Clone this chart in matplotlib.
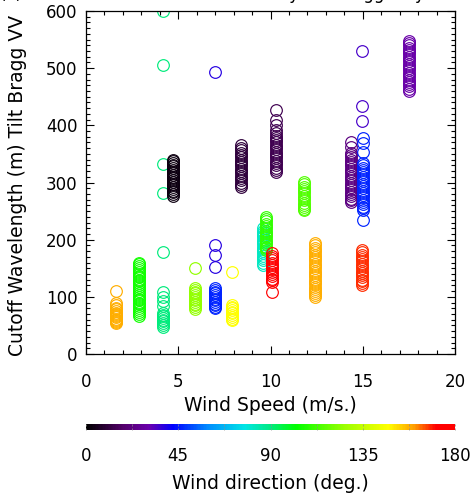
import numpy as np
import matplotlib
matplotlib.use("Agg")
import matplotlib.pyplot as plt
from matplotlib.colors import LinearSegmentedColormap, Normalize
from matplotlib.cm import ScalarMappable
from matplotlib.ticker import MultipleLocator

# one entry per stacked column of circles: wind speed (m/s), wind direction (deg), cutoff wavelengths (m)
speed = [1.6, 2.87, 4.18, 4.72, 5.93, 6.97, 6.97, 7.93, 8.4, 9.6,
         9.77, 10.1, 10.3, 11.84, 12.4, 14.36, 15.0, 14.95, 14.95, 17.5]
direction = [158, 105, 90, 3, 125, 47, 38, 147, 10, 82,
             110, 175, 14, 115, 158, 22, 47, 35, 168, 30]
cutoff = [
    [111, 90, 85, 81, 78, 75, 72, 70, 68, 66, 64, 62, 60, 58, 56, 55],
    [160, 157, 154, 150, 147, 144, 140, 137, 134, 130, 127, 124, 120, 117, 114,
     110, 107, 104, 100, 97, 94, 90, 87, 84, 80, 77, 74, 70, 67],
    [600, 505, 333, 282, 179, 108, 100, 92, 84, 72, 69, 66, 63, 60, 57, 54, 51, 48],
    [340, 337, 334, 331, 328, 325, 322, 319, 316, 313, 310, 307, 304, 301, 298,
     295, 292, 289, 286, 283, 280, 276],
    [150, 115, 112, 109, 106, 103, 100, 97, 94, 91, 88, 85, 82, 79],
    [115, 112, 109, 106, 103, 100, 97, 94, 91, 88, 85, 82, 80],
    [494, 191, 173, 152],
    [144, 86, 83, 80, 77, 74, 71, 68, 65, 62, 59],
    [365, 360, 356, 352, 348, 344, 340, 336, 332, 328, 324, 320, 316, 312, 308,
     304, 300, 296, 293],
    [220, 216, 212, 208, 204, 200, 196, 192, 188, 184, 180, 176, 172, 168, 164, 160, 156],
    [240, 236, 232, 228, 224, 220, 216, 212, 208, 204, 200, 196, 192, 188, 185, 182],
    [176, 172, 168, 164, 160, 156, 152, 148, 144, 140, 136, 132, 129, 126, 109],
    [427, 409, 400, 392, 386, 382, 378, 374, 370, 366, 362, 358, 354, 350, 346,
     342, 338, 334, 330, 326, 322, 319],
    [301, 297, 293, 289, 285, 281, 277, 273, 269, 265, 261, 257, 254, 252],
    [194, 190, 186, 182, 178, 174, 170, 166, 162, 158, 154, 150, 146, 142, 138,
     134, 130, 126, 122, 118, 114, 110, 106, 103, 100],
    [371, 362, 352, 348, 344, 340, 336, 332, 328, 324, 320, 316, 312, 308, 304,
     300, 296, 292, 288, 284, 280, 276, 272, 269, 266],
    [378, 369, 353, 334, 330, 326, 322, 318, 314, 310, 306, 302, 298, 294, 290,
     286, 282, 278, 274, 270, 266, 262, 258, 255, 252, 235],
    [530, 434, 408],
    [182, 178, 174, 170, 166, 162, 158, 154, 150, 146, 142, 138, 134, 130, 127, 124, 121],
    [548, 544, 540, 536, 532, 528, 524, 520, 516, 512, 508, 504, 500, 496, 492,
     488, 484, 480, 476, 472, 468, 464, 460],
]

speed_ticks = [0, 5, 10, 15, 20]
cutoff_ticks = [0, 100, 200, 300, 400, 500, 600]
dir_ticks = [0, 45, 90, 135, 180]

# IDL-like rainbow table
cmap = LinearSegmentedColormap.from_list("idl_rainbow", [
    (0.00, (0.0, 0.0, 0.0)),
    (0.10, (0.33, 0.0, 0.42)),
    (0.17, (0.42, 0.0, 0.68)),
    (0.235, (0.0, 0.0, 1.0)),
    (0.33, (0.0, 0.55, 1.0)),
    (0.43, (0.0, 0.9, 0.9)),
    (0.50, (0.0, 0.92, 0.5)),
    (0.57, (0.0, 1.0, 0.0)),
    (0.70, (0.6, 1.0, 0.0)),
    (0.82, (1.0, 1.0, 0.0)),
    (0.89, (1.0, 0.62, 0.0)),
    (0.95, (1.0, 0.0, 0.0)),
    (1.00, (1.0, 0.0, 0.0)),
])
norm = Normalize(0, 180)

plt.rcParams["font.family"] = "DejaVu Sans"
plt.rcParams["font.size"] = 12

fig = plt.figure(figsize=(4.75, 4.94), dpi=100)
ax = fig.add_axes([86 / 475, 140 / 494, 369 / 475, 343 / 494])

for s, d, vals in zip(speed, direction, cutoff):
    ax.plot(np.full(len(vals), s), vals, ls="none", marker="o", ms=8.4,
            mfc="none", mec=cmap(norm(d)), mew=0.85, clip_on=True)

ax.set_xlim(0, 20)
ax.set_ylim(0, 600)
ax.set_xticks(speed_ticks)
ax.set_yticks(cutoff_ticks)
ax.xaxis.set_minor_locator(MultipleLocator(1))
ax.yaxis.set_minor_locator(MultipleLocator(10))
ax.tick_params(which="both", direction="in", top=True, right=True, width=0.8)
ax.tick_params(which="major", length=5.8)
ax.tick_params(which="minor", length=2.8)
ax.tick_params(axis="x", pad=14)
ax.tick_params(axis="y", pad=6)
for sp in ax.spines.values():
    sp.set_linewidth(0.9)

ax.set_xlabel("Wind Speed (m/s.)", fontsize=13.5)
ax.xaxis.set_label_coords(0.5, -0.149)
ax.xaxis.label.set_va("center")
ax.set_ylabel("Cutoff Wavelength (m) Tilt Bragg VV", fontsize=13.5)
ax.yaxis.set_label_coords(-0.185, 0.49)
ax.yaxis.label.set_va("center")

cax = fig.add_axes([86 / 475, 64 / 494, 369 / 475, 6 / 494])
cb = fig.colorbar(ScalarMappable(norm=norm, cmap=cmap), cax=cax, orientation="horizontal")
cb.outline.set_linewidth(0)
cb.set_ticks(dir_ticks)
cax.xaxis.set_minor_locator(MultipleLocator(22.5))
cax.tick_params(which="both", direction="in", length=1.5, width=0.5, colors="0.55",
                labelcolor="black", pad=12, top=True)
cb.set_label("Wind direction (deg.)", fontsize=13.5, labelpad=7)

# title mostly cut off at the top edge
fig.text(0.0, 1 + 1.0 / 494, "(a)", ha="left", va="baseline")
fig.text(0.47, 1 + 1.0 / 494, "Cutoff by Tilt Bragg only", ha="left", va="baseline")

fig.savefig("out.png", dpi=100)
